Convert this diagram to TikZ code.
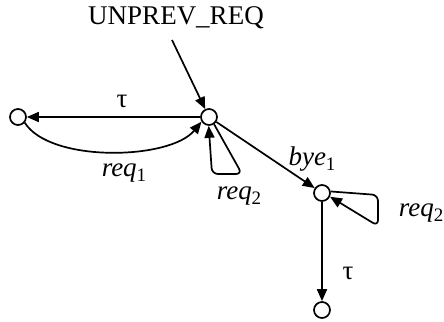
\documentclass[tikz,border=0pt]{standalone}
\usepackage{fontspec}
\setmainfont{Liberation Serif}
\usetikzlibrary{arrows.meta}
\newcommand{\lsub}[1]{\raisebox{-5pt}{\fontsize{19}{20}\selectfont #1}}
\begin{document}
\begin{tikzpicture}[x=1pt,y=-1pt,
  state/.style={draw,circle,line width=1.7pt,minimum size=16pt,inner sep=0pt},
  edge/.style={line width=1.7pt,-{Triangle[length=12pt,width=10pt]}},
  lbl/.style={font=\fontsize{27}{30}\selectfont,inner sep=0pt}]
\useasboundingbox (0,0) rectangle (444,321);
\node[state] (A) at (18,117) {};
\node[state] (B) at (209,117) {};
\node[state] (C) at (322,193) {};
\node[state] (D) at (322,310) {};
\node[lbl,anchor=base] (title) at (176,25) {UNPREV\_REQ};
\coordinate (in) at (172,40);
\draw[edge] (in) -- (B);
\draw[edge] (B) -- (A);
\node[lbl] (t1) at (122,101) {τ};
\draw[edge] (A.-40) .. controls (50,163) and (170,160) .. (B.-148);
\node[lbl] (r1) at (124,173) {\textit{req}\lsub{1}};
\draw[edge,rounded corners=6pt] (B.-55) -- (242,174) -- (212,174) -- (B.-92);
\node[lbl] (r2a) at (239,196) {\textit{req}\lsub{2}};
\draw[edge] (B) -- (C);
\node[lbl] (b1) at (312,159) {\textit{bye}\lsub{1}};
\draw[edge,rounded corners=6pt] (C.10) -- (378,195) -- (378,226) -- (C.-25);
\node[lbl] (r2b) at (421,213) {\textit{req}\lsub{2}};
\draw[edge] (C) -- (D);
\node[lbl] (t2) at (348,273) {τ};
\end{tikzpicture}
\end{document}
